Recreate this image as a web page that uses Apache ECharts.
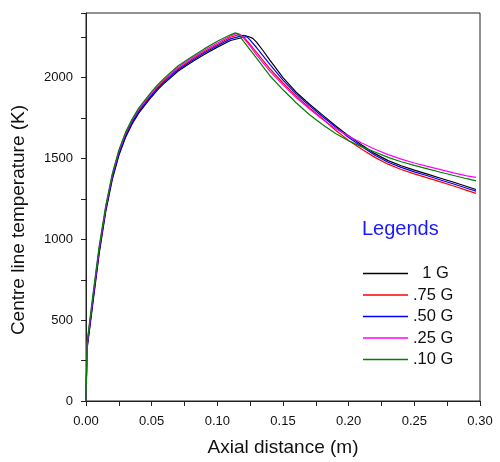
<!DOCTYPE html>
<html>
<head>
<meta charset="utf-8">
<script src="https://cdn.jsdelivr.net/npm/echarts@6/dist/echarts.min.js"></script>
<style>
  html, body { margin: 0; padding: 0; background: #fff; }
  #main { width: 500px; height: 462px; }
</style>
</head>
<body>
<div id="main"></div>
<script>
// axial distance (m) vs centre line temperature (K)
const g100 = [[0,0],[0.0008,320],[0.005,590],[0.01,910],[0.015,1170],[0.02,1370],[0.025,1518],[0.03,1628],[0.035,1712],[0.04,1779],[0.045,1832],[0.05,1882],[0.055,1929],[0.06,1969],[0.07,2039],[0.08,2094],[0.09,2143],[0.10,2189],[0.11,2230],[0.12,2250],[0.1235,2255],[0.127,2243],[0.13,2218],[0.135,2165],[0.14,2108],[0.15,2000],[0.16,1910],[0.17,1837],[0.18,1770],[0.19,1703],[0.20,1640],[0.21,1584],[0.22,1530],[0.23,1487],[0.24,1455],[0.25,1428],[0.26,1403],[0.27,1378],[0.28,1353],[0.29,1327],[0.297,1308]];
const g075 = [[0,0],[0.0008,340],[0.005,615],[0.01,935],[0.015,1190],[0.02,1390],[0.025,1535],[0.03,1645],[0.035,1728],[0.04,1795],[0.045,1848],[0.05,1898],[0.055,1945],[0.06,1985],[0.07,2055],[0.08,2110],[0.09,2160],[0.10,2205],[0.11,2250],[0.117,2268],[0.12,2250],[0.125,2205],[0.13,2155],[0.14,2055],[0.15,1967],[0.16,1887],[0.17,1814],[0.18,1747],[0.19,1675],[0.20,1612],[0.21,1557],[0.22,1507],[0.23,1465],[0.24,1432],[0.25,1405],[0.26,1380],[0.27,1355],[0.28,1330],[0.29,1303],[0.297,1284]];
const g050 = [[0,0],[0.0008,330],[0.005,602],[0.01,922],[0.015,1180],[0.02,1380],[0.025,1527],[0.03,1637],[0.035,1720],[0.04,1787],[0.045,1840],[0.05,1890],[0.055,1937],[0.06,1977],[0.07,2047],[0.08,2102],[0.09,2152],[0.10,2197],[0.11,2240],[0.12,2262],[0.122,2258],[0.125,2232],[0.13,2185],[0.14,2082],[0.15,1985],[0.16,1900],[0.17,1827],[0.18,1760],[0.19,1694],[0.20,1630],[0.21,1574],[0.22,1520],[0.23,1477],[0.24,1445],[0.25,1417],[0.26,1393],[0.27,1367],[0.28,1342],[0.29,1316],[0.297,1298]];
const g025 = [[0,0],[0.0008,350],[0.005,628],[0.01,945],[0.015,1198],[0.02,1398],[0.025,1544],[0.03,1653],[0.035,1735],[0.04,1802],[0.045,1855],[0.05,1905],[0.055,1952],[0.06,1992],[0.07,2063],[0.08,2118],[0.09,2168],[0.10,2214],[0.11,2258],[0.1155,2275],[0.118,2262],[0.12,2245],[0.125,2195],[0.13,2140],[0.14,2040],[0.15,1955],[0.16,1877],[0.17,1807],[0.18,1742],[0.19,1686],[0.20,1637],[0.21,1596],[0.22,1557],[0.23,1524],[0.24,1496],[0.25,1472],[0.26,1451],[0.27,1431],[0.28,1411],[0.29,1393],[0.297,1383]];
const g010 = [[0,0],[0.0008,360],[0.005,640],[0.01,955],[0.015,1205],[0.02,1405],[0.025,1552],[0.03,1660],[0.035,1742],[0.04,1810],[0.045,1863],[0.05,1913],[0.055,1960],[0.06,2000],[0.07,2072],[0.08,2127],[0.09,2178],[0.10,2225],[0.11,2265],[0.1137,2277],[0.116,2268],[0.12,2225],[0.13,2120],[0.14,2012],[0.15,1925],[0.16,1845],[0.17,1772],[0.18,1710],[0.19,1655],[0.20,1610],[0.21,1572],[0.22,1540],[0.23,1507],[0.24,1480],[0.25,1457],[0.26,1436],[0.27,1415],[0.28,1395],[0.29,1375],[0.297,1362]];

const names = ['1 G', '.75 G', '.50 G', '.25 G', '.10 G'];
const colors = ['#000000', '#ff0000', '#0000ff', '#ff00ff', '#008000'];
const seriesData = [g100, g075, g050, g025, g010];

let myChart = echarts.init(document.getElementById('main'));

let option = {
    animation: false,
    title: {
        text: 'Legends',
        left: 362,
        top: 219,
        padding: 0,
        textStyle: {
            color: '#1a1aff',
            fontFamily: 'Liberation Sans',
            fontSize: 20,
            fontWeight: 'normal'
        }
    },
    legend: {
        orient: 'vertical',
        left: 363,
        top: 265,
        padding: 0,
        icon: 'rect',
        itemWidth: 45,
        itemHeight: 1.3,
        itemGap: 4.5,
        data: names,
        formatter: function(name) {
            return name === '1 G' ? '  ' + name : name;
        },
        textStyle: {
            color: '#111',
            fontFamily: 'Liberation Sans',
            fontSize: 16.5,
            lineHeight: 16
        }
    },
    grid: {
        left: 86,
        right: 20,
        top: 13,
        bottom: 56,
        show: true,
        borderColor: '#222',
        borderWidth: 1
    },
    xAxis: {
        type: 'value',
        min: 0,
        max: 0.30,
        interval: 0.05,
        name: 'Axial distance (m)',
        nameLocation: 'middle',
        nameGap: 37,
        nameTextStyle: {
            color: '#111',
            fontFamily: 'Liberation Sans',
            fontSize: 19
        },
        axisLine: { lineStyle: { color: '#222', width: 1 } },
        axisTick: { show: true, length: 5, lineStyle: { color: '#222' } },
        minorTick: { show: true, splitNumber: 2, length: 5, lineStyle: { color: '#222' } },
        splitLine: { show: false },
        axisLabel: {
            color: '#111',
            fontFamily: 'Liberation Sans',
            fontSize: 13,
            margin: 14,
            formatter: function(v) { return v.toFixed(2); }
        }
    },
    yAxis: {
        type: 'value',
        min: 0,
        max: 2400,
        interval: 500,
        name: 'Centre line temperature (K)',
        nameLocation: 'middle',
        nameGap: 58,
        nameTextStyle: {
            color: '#111',
            fontFamily: 'Liberation Sans',
            fontSize: 19,
            padding: [0, 26, 0, 0]
        },
        axisLine: { show: true, lineStyle: { color: '#222', width: 1 } },
        axisTick: { show: true, length: 5, lineStyle: { color: '#222' } },
        minorTick: { show: true, splitNumber: 2, length: 5, lineStyle: { color: '#222' } },
        splitLine: { show: false },
        axisLabel: {
            color: '#111',
            fontFamily: 'Liberation Sans',
            fontSize: 13,
            margin: 13,
            showMaxLabel: false,
            formatter: function(v) { return String(v); }
        }
    },
    series: names.map(function(name, i) {
        return {
            name: name,
            type: 'line',
            data: seriesData[i],
            symbol: 'none',
            showSymbol: false,
            smooth: false,
            lineStyle: { color: colors[i], width: 1.2 },
            itemStyle: { color: colors[i] }
        };
    })
};

myChart.setOption(option);
</script>
</body>
</html>
